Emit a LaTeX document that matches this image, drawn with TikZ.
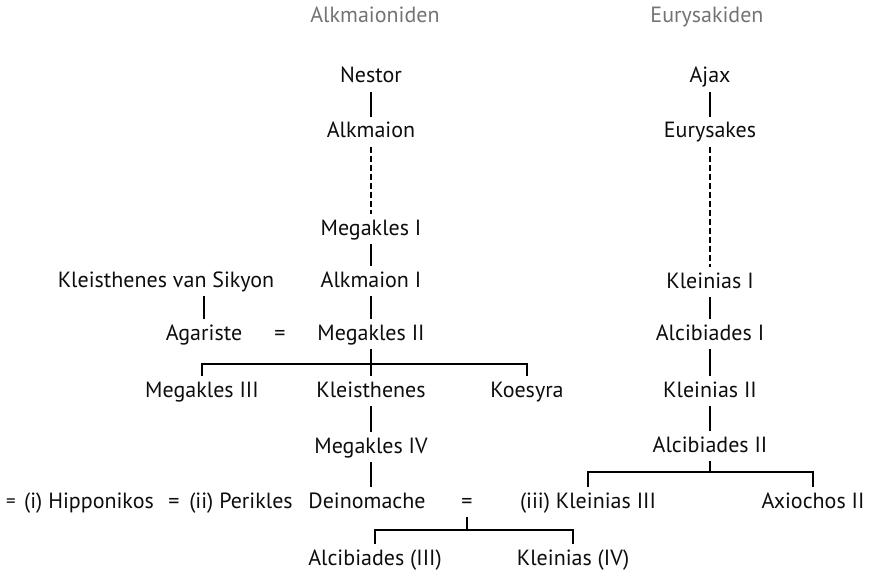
\documentclass[tikz,border=0pt]{standalone}
\usepackage{fontspec}
\setmainfont{PT Sans}
\begin{document}
\begin{tikzpicture}[x=1pt,y=-1pt,
  person/.style={anchor=base,inner sep=0pt,inner ysep=3pt,text height=17pt,text depth=5pt},
  gap/.style={dash pattern=on 6pt off 3pt}]
\useasboundingbox (0,0) rectangle (875,575);
\begin{scope}[line width=1.1pt,font=\fontsize{22}{26}\selectfont,text=black!95]
% Alkmaioniden
\node [person,text=black!55] (alkhead) at (375,23) {Alkmaioniden};
\node [person] (nes)  at (371,83)  {Nestor};
\node [person] (alk)  at (371,138) {Alkmaion};
\node [person] (mk1)  at (371,235) {Megakles I};
\node [person] (alk1) at (371,287) {Alkmaion I};
\node [person] (mk2)  at (371,340) {Megakles II};
\node [person] (kle)  at (371,397) {Kleisthenes};
\node [person] (mk4)  at (371,453) {Megakles IV};
\node [person] (dei)  at (367,508) {Deinomache};
\node [person] (ksik) at (166,287) {Kleisthenes van Sikyon};
\node [person] (aga)  at (204,340) {Agariste};
\node [person] (eq1)  at (280,340) {=};
\node [person] (mk3)  at (202,397) {Megakles III};
\node [person] (koe)  at (527,397) {Koesyra};
\node [person,font=\fontsize{19}{22}\selectfont] (eq0) at (11,507) {=};
\node [person] (hip)  at (89,508)  {(i) Hipponikos};
\node [person] (eq2)  at (174,508) {=};
\node [person] (per)  at (241,508) {(ii) Perikles};
\node [person] (eq3)  at (467,508) {=};
\node [person] (alc3) at (375,565) {Alcibiades (III)};
\node [person] (kl4)  at (573,565) {Kleinias (IV)};
% Eurysakiden
\node [person,text=black!55] (eurhead) at (707,23) {Eurysakiden};
\node [person] (ajax) at (710,83)  {Ajax};
\node [person] (eur)  at (710,138) {Eurysakes};
\node [person] (kl1)  at (710,288) {Kleinias I};
\node [person] (ac1)  at (710,340) {Alcibiades I};
\node [person] (kl2)  at (710,397) {Kleinias II};
\node [person] (ac2)  at (710,452) {Alcibiades II};
\node [person] (kl3)  at (588,508) {(iii) Kleinias III};
\node [person] (axi)  at (813,508) {Axiochos II};
\coordinate (bar2) at (371,364);
\coordinate (bar3) at (467,530);
\coordinate (bar4) at (710,472);
\draw (nes) -- (alk);
\draw [gap] (alk) -- (mk1);
\draw (mk1) -- (alk1);
\draw (alk1) -- (mk2);
\draw (mk2) -- (kle);
\draw (mk3.north) |- (bar2) -| (koe.north);
\draw (kle) -- (mk4);
\draw (mk4) -- (mk4 |- dei.north);
\draw (aga.north) -- (aga.north |- ksik.south);
\draw (eq3.south) -- (bar3);
\draw (alc3.north) |- (bar3) -| (kl4.north);
\draw (ajax) -- (eur);
\draw [gap] (eur) -- (kl1);
\draw (kl1) -- (ac1);
\draw (ac1) -- (kl2);
\draw (kl2) -- (ac2);
\draw (ac2.south) -- (bar4);
\draw (kl3.north) |- (bar4) -| (axi.north);
\end{scope}
\end{tikzpicture}
\end{document}
